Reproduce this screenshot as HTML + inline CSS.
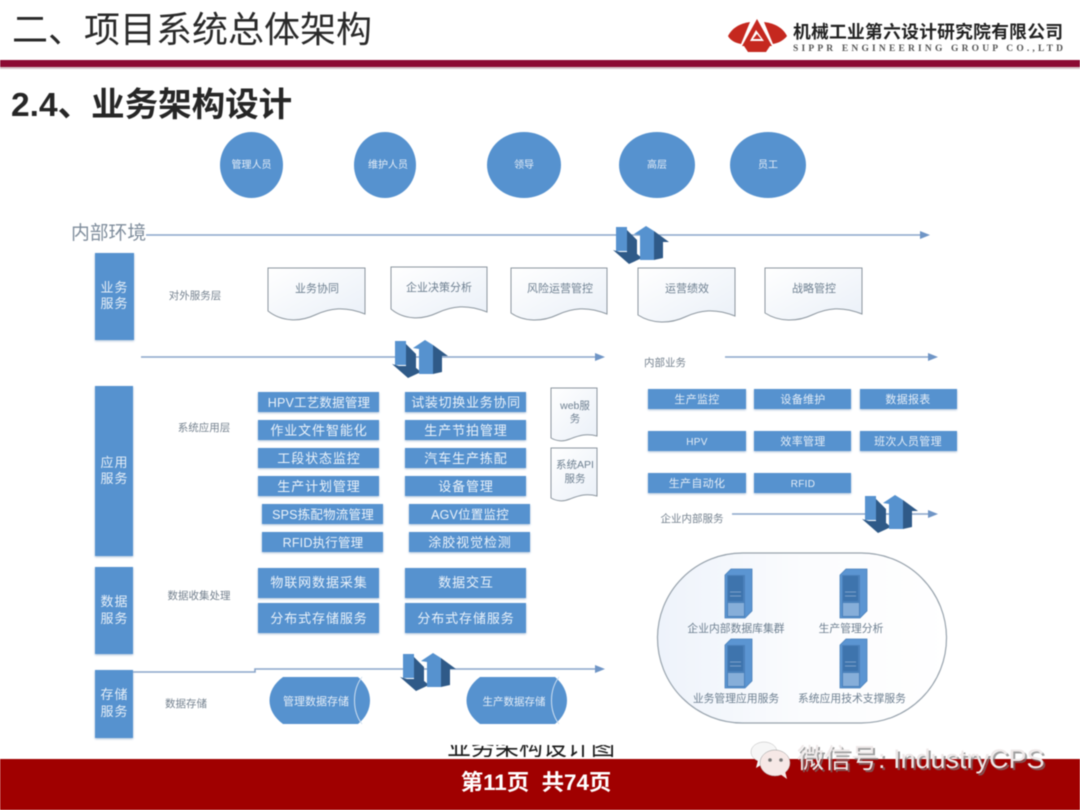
<!DOCTYPE html>
<html lang="zh-CN">
<head>
<meta charset="utf-8">
<title>业务架构设计</title>
<style>
html,body{margin:0;padding:0;background:#fff;width:1080px;height:810px;overflow:hidden}
svg{display:block;filter:blur(.5px)}
text{font-family:"Liberation Sans","Noto Sans CJK SC",sans-serif}
.b{fill:#eaf2fa;font-size:13px;letter-spacing:.9px;text-anchor:middle}
.n{font-size:12.5px;letter-spacing:.2px}
.s{fill:#e4edf7;font-size:10px;text-anchor:middle}
.r{fill:#e4edf7;font-size:11px;text-anchor:middle;letter-spacing:.3px}
.g{fill:#75828f;font-size:10.5px;text-anchor:middle}
.d{fill:#6d7f90;font-size:11px;text-anchor:middle}
.v{fill:#e6eff8;font-size:13px;text-anchor:middle;letter-spacing:1px}
.box{fill:#5692cf;filter:drop-shadow(0 1px 1px #a9c0d8)}
.ln{stroke:#8aa6ca;stroke-width:1.6;fill:none}
.ah{fill:#6f95c6}
.doc{fill:url(#dg);stroke:#8c969f;stroke-width:1}
</style>
</head>
<body>
<svg width="1080" height="810" viewBox="0 0 1080 810" xmlns="http://www.w3.org/2000/svg">
<defs>
<linearGradient id="dg" x1="0" y1="0" x2="1" y2="1"><stop offset="0" stop-color="#fff"/><stop offset="1" stop-color="#eaf0f8"/></linearGradient>
<linearGradient id="cg" x1="0" y1="0" x2="1" y2="0"><stop offset="0" stop-color="#eef3fb"/><stop offset=".5" stop-color="#fbfcfe"/><stop offset="1" stop-color="#fff"/></linearGradient>
<clipPath id="cap"><rect x="430" y="745" width="200" height="12"/></clipPath>
<symbol id="ic" width="56" height="40" viewBox="0 0 56 40" overflow="visible">
<polygon points="14,4 24,14 24,33 14,30" fill="#2f5a88"/>
<polygon points="0,24 16,38 29,32 18,23 14,26 7,26" fill="#2f5a88"/>
<polygon points="3,1 14,1 14,25 3,25" fill="#5692cf"/>
<polygon points="41,5 56,16 50,16 50,32 41,34" fill="#2f5a88"/>
<polygon points="21,8 33,0 41,5 41,34 27,34 27,9" fill="#5692cf"/>
</symbol>
<symbol id="sv" width="28" height="52" viewBox="0 0 28 52" overflow="visible">
<polygon points="0,7 6,1 27,1 27,43 20,50 0,50" fill="#5b95d2" stroke="#4a80ba" stroke-width=".8"/>
<rect x="2" y="7" width="18" height="42" fill="#4a80ba"/>
<rect x="3" y="8" width="15" height="25" fill="#3e74ad"/>
<rect x="3" y="35" width="16" height="13" fill="#86aed9"/>
<line x1="5" y1="24" x2="16" y2="24" stroke="#7aa0c8"/>
<line x1="5" y1="28" x2="16" y2="28" stroke="#7aa0c8"/>
</symbol>
</defs>

<rect width="1080" height="810" fill="#fff"/>

<!-- Header -->
<text x="12" y="42" font-size="36" fill="#2a2a2a">二、项目系统总体架构</text>
<path d="M728,36C733,26 743,23 750,22L741,44C735,43 730,40 728,36Z" fill="#c5281f"/>
<path d="M787,36C782,26 772,23 764,22L773,44C779,43 784,40 787,36Z" fill="#c5281f"/>
<path d="M744,46H770L766,52H748Z" fill="#c5281f"/>
<polygon points="757,19 772,46 742,46" fill="#c5281f"/>
<polygon points="756,30 764,41 750,41" fill="#fff"/>
<polygon points="757,34 761,39 753,39" fill="#c5281f"/>
<text x="793" y="38" font-size="17.8" font-weight="700" fill="#222" textLength="270" lengthAdjust="spacing">机械工业第六设计研究院有限公司</text>
<text x="793" y="51" font-size="9.5" font-weight="700" fill="#555" textLength="270" lengthAdjust="spacing" style="font-family:'Liberation Serif',serif">SIPPR ENGINEERING GROUP CO.,LTD</text>
<rect x="0" y="60" width="1080" height="7" fill="#8c0a33"/>
<rect x="0" y="67" width="1080" height="2" fill="#d8c4ca"/>
<text x="11" y="116" font-size="33.5" font-weight="700" fill="#262626">2.4、业务架构设计</text>

<!-- Circles -->
<ellipse cx="251.500" cy="165" rx="31.500" ry="33" fill="#5692cf"/>
<ellipse cx="385" cy="165" rx="31" ry="33" fill="#5692cf"/>
<ellipse cx="524" cy="165" rx="37" ry="33" fill="#5692cf"/>
<ellipse cx="657" cy="165" rx="38" ry="33" fill="#5692cf"/>
<ellipse cx="768" cy="165" rx="38" ry="33" fill="#5692cf"/>
<text class="s" x="251.500" y="168">管理人员</text>
<text class="s" x="388" y="168">维护人员</text>
<text class="s" x="524" y="168">领导</text>
<text class="s" x="657" y="168">高层</text>
<text class="s" x="768" y="168">员工</text>

<!-- Lines -->
<text x="71" y="239" font-size="18.800" fill="#7f8d9c">内部环境</text>
<line class="ln" x1="146" y1="235" x2="922" y2="235"/>
<polygon class="ah" points="920,231 930,235 920,239"/>
<line class="ln" x1="141" y1="357" x2="596" y2="357"/>
<polygon class="ah" points="595,353 605,357 595,361"/>
<line class="ln" x1="725" y1="357" x2="930" y2="357"/>
<polygon class="ah" points="928,353 938,357 928,361"/>
<line class="ln" x1="732" y1="514" x2="930" y2="514"/>
<polygon class="ah" points="928,510 938,514 928,518"/>
<polyline class="ln" points="133,672 255,672 255,669 596,669"/>
<polygon class="ah" points="595,665 605,669 595,673"/>

<use href="#ic" x="613" y="226"/>
<use href="#ic" x="392" y="340"/>
<use href="#ic" x="400" y="653"/>
<use href="#ic" x="862" y="495"/>

<!-- Left columns -->
<rect class="box" x="95" y="253" width="39" height="87"/>
<rect class="box" x="95" y="386" width="38" height="170"/>
<rect class="box" x="95" y="567" width="38" height="87"/>
<rect class="box" x="95" y="670" width="38" height="68"/>
<text class="v" x="114.500" y="292">业务</text><text class="v" x="114.500" y="308">服务</text>
<text class="v" x="114.500" y="467">应用</text><text class="v" x="114.500" y="483">服务</text>
<text class="v" x="114.500" y="606">数据</text><text class="v" x="114.500" y="623">服务</text>
<text class="v" x="114.500" y="699">存储</text><text class="v" x="114.500" y="716">服务</text>

<text class="g" x="195" y="299">对外服务层</text>
<text class="g" x="204" y="431">系统应用层</text>
<text class="g" x="199" y="599">数据收集处理</text>
<text class="g" x="186" y="707">数据存储</text>

<!-- Documents -->
<path class="doc" d="M268,268H365V314C345,306 330,308 315,315C300,322 282,322 268,311Z"/>
<path class="doc" d="M391,267H487V312C467,304 452,306 437,313C422,320 404,320 391,309Z"/>
<path class="doc" d="M511,268H607V314C587,306 572,308 557,315C542,322 524,322 511,313Z"/>
<path class="doc" d="M638,268H735V316C715,308 700,310 685,317C670,324 652,324 638,315Z"/>
<path class="doc" d="M765,268H862V314C842,306 827,308 812,315C797,322 779,322 765,313Z"/>
<text class="d" x="317" y="292">业务协同</text>
<text class="d" x="439" y="291">企业决策分析</text>
<text class="d" x="560" y="292">风险运营管控</text>
<text class="d" x="687" y="292">运营绩效</text>
<text class="d" x="814" y="292">战略管控</text>

<path class="doc" d="M551,388H597V436C585,433 578,436 570,439C563,442 556,441 551,438Z"/>
<path class="doc" d="M551,448H597V496C585,493 578,496 570,499C563,502 556,501 551,498Z"/>
<text class="d" x="575" y="409" style="font-size:10.500px">web服</text>
<text class="d" x="575" y="422" style="font-size:10.500px">务</text>
<text class="d" x="575" y="468" style="font-size:10.500px">系统API</text>
<text class="d" x="575" y="482" style="font-size:10.500px">服务</text>

<!-- App boxes col 1 -->
<rect class="box" x="258" y="392" width="121" height="20"/>
<rect class="box" x="258" y="420" width="121" height="20"/>
<rect class="box" x="258" y="448" width="121" height="20"/>
<rect class="box" x="258" y="476" width="121" height="20"/>
<rect class="box" x="262" y="504" width="121" height="20"/>
<rect class="box" x="262" y="532" width="121" height="20"/>
<text class="b n" x="319" y="407">HPV工艺数据管理</text>
<text class="b" x="319" y="435">作业文件智能化</text>
<text class="b" x="319" y="463">工段状态监控</text>
<text class="b" x="319" y="491">生产计划管理</text>
<text class="b n" x="323" y="519">SPS拣配物流管理</text>
<text class="b n" x="323" y="547">RFID执行管理</text>

<!-- App boxes col 2 -->
<rect class="box" x="405" y="392" width="121" height="20"/>
<rect class="box" x="405" y="420" width="121" height="20"/>
<rect class="box" x="405" y="448" width="121" height="20"/>
<rect class="box" x="405" y="476" width="121" height="20"/>
<rect class="box" x="409" y="504" width="121" height="20"/>
<rect class="box" x="409" y="532" width="121" height="20"/>
<text class="b" x="466" y="407" style="letter-spacing:.7px">试装切换业务协同</text>
<text class="b" x="466" y="435">生产节拍管理</text>
<text class="b" x="466" y="463">汽车生产拣配</text>
<text class="b" x="466" y="491">设备管理</text>
<text class="b n" x="470" y="519">AGV位置监控</text>
<text class="b" x="470" y="547">涂胶视觉检测</text>

<!-- Data boxes -->
<rect class="box" x="258" y="568" width="121" height="30"/>
<rect class="box" x="258" y="603" width="121" height="30"/>
<rect class="box" x="405" y="568" width="121" height="30"/>
<rect class="box" x="405" y="603" width="121" height="30"/>
<text class="b" x="319" y="587">物联网数据采集</text>
<text class="b" x="319" y="623">分布式存储服务</text>
<text class="b" x="466" y="587">数据交互</text>
<text class="b" x="466" y="623">分布式存储服务</text>

<!-- Cylinders -->
<path d="M283,677H358C374,690 374,711 358,724H283C265,711 265,690 283,677Z" fill="#5692cf"/>
<path d="M362,677C352,690 352,711 362,724" fill="none" stroke="#cfe0f1" stroke-width="1"/>
<path d="M480,677H555C571,690 571,711 555,724H480C462,711 462,690 480,677Z" fill="#5692cf"/>
<path d="M559,677C549,690 549,711 559,724" fill="none" stroke="#cfe0f1" stroke-width="1"/>
<text class="s" x="316" y="705" style="font-size:11px">管理数据存储</text>
<text class="s" x="514" y="705" style="font-size:10.500px">生产数据存储</text>

<!-- Right side -->
<text class="g" x="665" y="366">内部业务</text>
<text class="g" x="692" y="522" style="font-size:10.500px">企业内部服务</text>
<rect class="box" x="648" y="389" width="98" height="20"/>
<rect class="box" x="754" y="389" width="97" height="20"/>
<rect class="box" x="860" y="389" width="97" height="20"/>
<rect class="box" x="648" y="431" width="98" height="20"/>
<rect class="box" x="754" y="431" width="97" height="20"/>
<rect class="box" x="860" y="431" width="97" height="20"/>
<rect class="box" x="648" y="473" width="98" height="20"/>
<rect class="box" x="754" y="473" width="97" height="20"/>
<text class="r" x="697" y="403">生产监控</text>
<text class="r" x="803" y="403">设备维护</text>
<text class="r" x="908" y="403">数据报表</text>
<text class="r" x="697" y="445" style="font-size:10px">HPV</text>
<text class="r" x="803" y="445">效率管理</text>
<text class="r" x="908" y="445">班次人员管理</text>
<text class="r" x="697" y="487">生产自动化</text>
<text class="r" x="803" y="487" style="font-size:10px">RFID</text>

<!-- Capsule -->
<rect x="657.500" y="553" width="289" height="170" rx="85" ry="85" fill="url(#cg)" stroke="#98a3ad" stroke-width="1.2"/>
<use href="#sv" x="725" y="568"/>
<use href="#sv" x="840" y="568"/>
<use href="#sv" x="725" y="638"/>
<use href="#sv" x="840" y="638"/>
<text class="d" x="736" y="632" style="font-size:10.800px">企业内部数据库集群</text>
<text class="d" x="851" y="632" style="font-size:10.800px">生产管理分析</text>
<text class="d" x="736" y="702" style="font-size:10.800px">业务管理应用服务</text>
<text class="d" x="852" y="702" style="font-size:10.800px">系统应用技术支撑服务</text>

<!-- Caption (clipped) -->
<g clip-path="url(#cap)"><text x="447" y="755" font-size="24" fill="#1c1c1c">业务架构设计图</text></g>

<!-- Footer -->
<rect x="0" y="759" width="1080" height="51" fill="#a00000"/>
<text x="536" y="790" font-size="22.400" font-weight="700" fill="#fff" text-anchor="middle" xml:space="preserve">第11页  共74页</text>

<!-- Watermark -->
<ellipse cx="764" cy="752" rx="13" ry="10" fill="#f6f6f6" stroke="#bbb" stroke-width=".5"/>
<polygon points="758,760 756,768 766,762" fill="#f6f6f6"/>
<ellipse cx="775" cy="763" rx="15" ry="13" fill="#f6e8e6" stroke="#999" stroke-width=".5"/>
<polygon points="780,774 787,779 785,771" fill="#f6e8e6"/>
<circle cx="770" cy="760" r="1.800" fill="#777"/><circle cx="781" cy="760" r="1.800" fill="#777"/>
<text x="798" y="769" font-size="27" fill="#777" opacity=".7" dx="1" dy="1">微信号: IndustryCPS</text>
<text x="797" y="768" font-size="27" fill="#eee8e8">微信号: IndustryCPS</text>
</svg>
</body>
</html>
